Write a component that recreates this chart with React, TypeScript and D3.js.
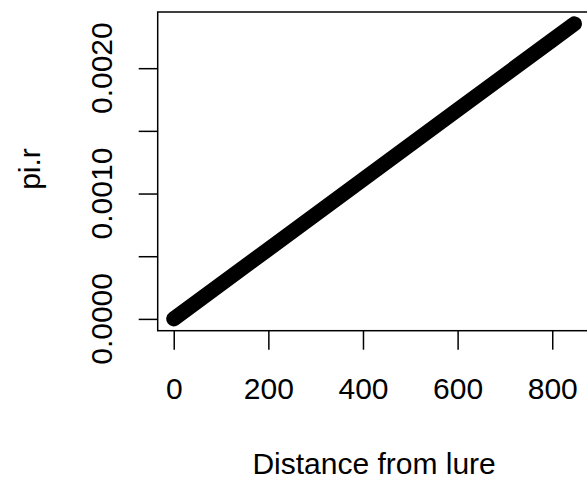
import React, { useEffect, useRef } from "react";
import * as d3 from "d3";

// valores
const distance = [0, 200, 400, 600, 800, 847];
const piR = [0, 0.000556, 0.001112, 0.001668, 0.002224, 0.002354];
const xTicks = [0, 200, 400, 600, 800];
const yTicks = [0, 0.0005, 0.001, 0.0015, 0.002];
const yTickLabels = [0, 0.001, 0.002];

const App = () => {
  const ref = useRef<SVGSVGElement | null>(null);
  const width = 587;
  const height = 481;
  // region del plot (como en R, con 4% extra en cada eje)
  const left = 157.7;
  const right = 590.5;
  const top = 12;
  const bottom = 330.7;
  const font = "'Liberation Sans', Arial, Helvetica, sans-serif";
  const fontSize = 30;

  useEffect(() => {
    const svg = d3.select(ref.current);
    svg.selectAll("*").remove();

    const xMax = d3.max(distance) as number;
    const yMax = d3.max(piR) as number;
    const x = d3
      .scaleLinear()
      .domain([-0.04 * xMax, 1.04 * xMax])
      .range([left, right]);
    const y = d3
      .scaleLinear()
      .domain([-0.04 * yMax, 1.04 * yMax])
      .range([bottom, top]);

    // linea gruesa
    const line = d3
      .line<number>()
      .x((d, i) => x(distance[i]))
      .y((d) => y(d));
    svg
      .append("path")
      .datum(piR)
      .attr("d", line)
      .attr("fill", "none")
      .attr("stroke", "black")
      .attr("stroke-width", 15)
      .attr("stroke-linecap", "round")
      .attr("stroke-linejoin", "round");

    // caja
    svg
      .append("rect")
      .attr("x", left)
      .attr("y", top)
      .attr("width", right - left)
      .attr("height", bottom - top)
      .attr("fill", "none")
      .attr("stroke", "black")
      .attr("stroke-width", 1.5);

    // eje x
    const gx = svg
      .append("g")
      .attr("transform", `translate(0,${bottom})`)
      .call(
        d3
          .axisBottom(x)
          .tickValues(xTicks)
          .tickSize(19)
          .tickPadding(28)
          .tickFormat(d3.format("d"))
      );
    gx.select(".domain").remove();
    gx.selectAll("line").attr("stroke", "black").attr("stroke-width", 1.5);
    gx.selectAll("text")
      .attr("fill", "black")
      .style("font-family", font)
      .style("font-size", fontSize + "px");

    // eje y
    const gy = svg
      .append("g")
      .attr("transform", `translate(${left},0)`)
      .call(
        d3
          .axisLeft(y)
          .tickValues(yTicks)
          .tickSize(19)
          .tickFormat(() => "")
      );
    gy.select(".domain").remove();
    gy.selectAll("line").attr("stroke", "black").attr("stroke-width", 1.5);

    svg
      .append("g")
      .selectAll("text")
      .data(yTickLabels)
      .enter()
      .append("text")
      .attr("transform", (d) => `translate(112,${y(d)}) rotate(-90)`)
      .attr("text-anchor", "middle")
      .style("font-family", font)
      .style("font-size", fontSize + "px")
      .text((d) => d3.format(".4f")(d));

    // titulos de ejes
    svg
      .append("text")
      .attr("x", (left + right) / 2)
      .attr("y", 474)
      .attr("text-anchor", "middle")
      .style("font-family", font)
      .style("font-size", fontSize + "px")
      .text("Distance from lure");
    svg
      .append("text")
      .attr("transform", `translate(40,169) rotate(-90)`)
      .attr("text-anchor", "middle")
      .style("font-family", font)
      .style("font-size", fontSize + "px")
      .text("pi.r");
  }, []);

  return (
    <svg
      ref={ref}
      width={width}
      height={height}
      style={{ position: "absolute", left: 0, top: 0, background: "white" }}
    />
  );
};

export default App;
